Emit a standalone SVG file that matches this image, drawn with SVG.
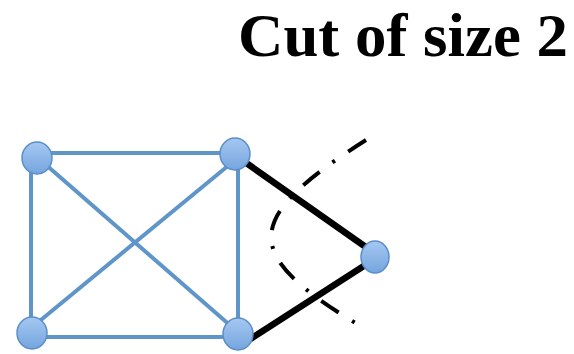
<svg xmlns="http://www.w3.org/2000/svg" width="574" height="354" viewBox="0 0 574 354">
<defs>
<linearGradient id="ng" x1="0" y1="0" x2="0" y2="1">
<stop offset="0" stop-color="#a5c8f2"/>
<stop offset="1" stop-color="#75a5de"/>
</linearGradient>
<style>
.blue{stroke:#5f95c9;stroke-width:4;fill:none}
.cut{stroke:#000;stroke-width:6.5;fill:none}
.node{fill:url(#ng);stroke:#5b8ec8;stroke-width:1.5}
.title{font-family:"Liberation Serif","Times New Roman",serif;font-weight:bold;font-size:62px;fill:#000}
.dash{stroke:#000;stroke-width:4;fill:none;stroke-dasharray:21 16 3 16}
</style>
</defs>
<rect width="574" height="354" fill="#fff"/>
<text class="title" x="238" y="56" textLength="330" lengthAdjust="spacingAndGlyphs">Cut of size 2</text>
<g id="connectors">
<line class="blue" x1="45" y1="153" x2="228" y2="153"/>
<line class="blue" x1="31" y1="170" x2="31" y2="322"/>
<line class="blue" x1="238" y1="165" x2="238" y2="322"/>
<line class="blue" x1="40" y1="337" x2="228" y2="337"/>
<line class="blue" x1="45" y1="164" x2="232" y2="327"/>
<line class="blue" x1="36" y1="324" x2="229" y2="165"/>
<line class="cut" x1="242" y1="160" x2="370" y2="250"/>
<line class="cut" x1="370" y1="262" x2="244" y2="343"/>
<path class="dash" d="M366,140 C240,220 240,255 364,328"/>
</g>
<g id="n1"><ellipse class="node" cx="37" cy="158" rx="15" ry="16"/></g>
<g id="n2"><ellipse class="node" cx="235" cy="154" rx="15" ry="16"/></g>
<g id="n3"><ellipse class="node" cx="32" cy="333" rx="15" ry="16"/></g>
<g id="n4"><ellipse class="node" cx="238" cy="334" rx="15" ry="16"/></g>
<g id="n5"><ellipse class="node" cx="375" cy="257" rx="14" ry="16"/></g>
</svg>
